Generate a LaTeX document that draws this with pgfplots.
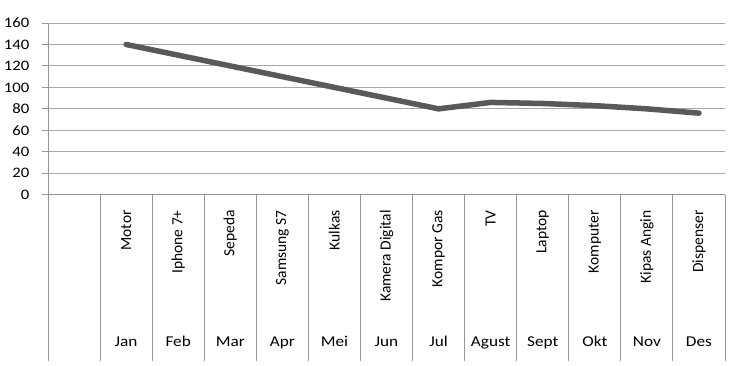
\documentclass[border=0pt]{standalone}
\usepackage{pgfplots}
\pgfplotsset{compat=1.18}
\usepackage{fontspec}
\setmainfont{Carlito}
\usetikzlibrary{calc}
\definecolor{linec}{RGB}{89,89,89}
\definecolor{gridc}{RGB}{168,168,168}
\definecolor{axc}{RGB}{150,150,150}
\newcommand{\hs}[1]{\scalebox{1.15}[1]{#1}}
\newcommand{\cat}[3]{%
  \node[yshift=-15.5pt, rotate=90, anchor=east, inner sep=0pt, font=\fontsize{15.5}{17}\selectfont] at (axis cs:#1,0) {#2};
  \node[yshift=-152pt, anchor=base, inner sep=0pt, font=\fontsize{15}{17}\selectfont] at (axis cs:#1,0) {\hs{#3}};
}
\begin{document}
\begin{tikzpicture}
\begin{axis}[
  scale only axis, width=677pt, height=171.7pt,
  xmin=0, xmax=13, ymin=0, ymax=160,
  axis x line*=bottom, axis y line*=left,
  axis line style={axc, line width=0.9pt},
  x axis line style={-}, y axis line style={-},
  xtick=\empty,
  ytick={0,20,...,160},
  ymajorgrids, major grid style={gridc, line width=0.9pt},
  ytick style={axc, line width=0.9pt},
  tick align=outside, major tick length=6pt,
  /pgf/number format/assume math mode=true,
  yticklabel style={font=\fontsize{14.5}{16}\selectfont, text=black, anchor=east, inner sep=0pt, xshift=-12.5pt},
  yticklabel={\hs{\pgfmathprintnumber{\tick}}},
  clip=false,
]
\addplot[linec, line width=5.5pt, line join=round, line cap=round] coordinates {
  (1.5,140) (2.5,130) (3.5,120) (4.5,110) (5.5,100) (6.5,90)
  (7.5,80) (8.5,86) (9.5,85) (10.5,83) (11.5,80) (12.5,76)
};
\pgfplotsinvokeforeach{0,...,13}{\draw[axc, line width=0.9pt] (axis cs:#1,0) -- ++(0pt,-166pt);}
\cat{1.5}{Motor}{Jan}
\cat{2.5}{Iphone 7+}{Feb}
\cat{3.5}{Sepeda}{Mar}
\cat{4.5}{Samsung S7}{Apr}
\cat{5.5}{Kulkas}{Mei}
\cat{6.5}{Kamera Digital}{Jun}
\cat{7.5}{Kompor Gas}{Jul}
\cat{8.5}{TV}{Agust}
\cat{9.5}{Laptop}{Sept}
\cat{10.5}{Komputer}{Okt}
\cat{11.5}{Kipas Angin}{Nov}
\cat{12.5}{Dispenser}{Des}
\coordinate (O) at (axis cs:0,0);
\end{axis}
\pgfresetboundingbox
\useasboundingbox ($(O)+(-48pt,-171.3pt)$) rectangle ($(O)+(683pt,194.7pt)$);
\end{tikzpicture}
\end{document}
